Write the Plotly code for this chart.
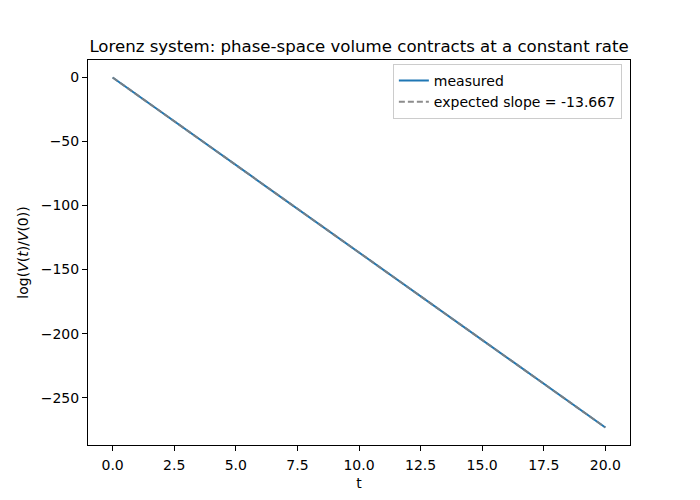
import plotly.graph_objects as go

# values
t = [0.0, 2.5, 5.0, 7.5, 10.0, 12.5, 15.0, 17.5, 20.0]
log_vol = [0.0, -34.2, -68.3, -102.5, -136.7, -170.8, -205.0, -239.2, -273.3]

expected_t = [0.0, 20.0]
expected_log_vol = [0.0, -273.33]
expected_slope = -13.667

x_ticks = [0, 2.5, 5, 7.5, 10, 12.5, 15, 17.5, 20]
y_ticks = [0, -50, -100, -150, -200, -250]

font = "DejaVu Sans, sans-serif"

fig = go.Figure()
fig.add_trace(go.Scatter(x=t, y=log_vol, mode="lines", name="measured",
                         line=dict(color="#1f77b4", width=2)))
fig.add_trace(go.Scatter(x=expected_t, y=expected_log_vol, mode="lines",
                         name=f"expected slope = {expected_slope}",
                         line=dict(color="rgba(128,128,128,0.9)", width=2, dash="6px,3px")))

axis_style = dict(showline=True, linecolor="black", linewidth=1, mirror=True,
                  ticks="outside", ticklen=5, tickcolor="black", showgrid=False,
                  zeroline=False, automargin=False, tickfont=dict(size=14, color="black"))

fig.update_xaxes(range=[-1, 21], tickvals=x_ticks, tickformat=".1f", ticklabelstandoff=2,
                 title=dict(text="t", font=dict(size=14), standoff=6), **axis_style)
fig.update_yaxes(range=[-287, 13.67], tickvals=y_ticks,
                 title=dict(text="log(<i>V</i>(<i>t</i>)/<i>V</i>(0))", font=dict(size=14), standoff=8),
                 **axis_style)

# page body adds an 8px offset, so margins are shifted to compensate
fig.update_layout(
    width=700, height=500,
    margin=dict(l=80, r=78, t=52, b=63, autoexpand=False),
    plot_bgcolor="white", paper_bgcolor="white",
    font=dict(family=font, size=14, color="black"),
    title=dict(text="Lorenz system: phase-space volume contracts at a constant rate",
               font=dict(size=16.6), x=0.5, xref="paper", xanchor="center",
               y=1 - 38 / 500, yref="container", yanchor="middle"),
    legend=dict(x=0.985, y=0.99, xanchor="right", yanchor="top",
                bordercolor="#cccccc", borderwidth=1, bgcolor="rgba(255,255,255,0.8)",
                font=dict(size=14)),
    showlegend=True,
)

fig.write_html("out.html")
